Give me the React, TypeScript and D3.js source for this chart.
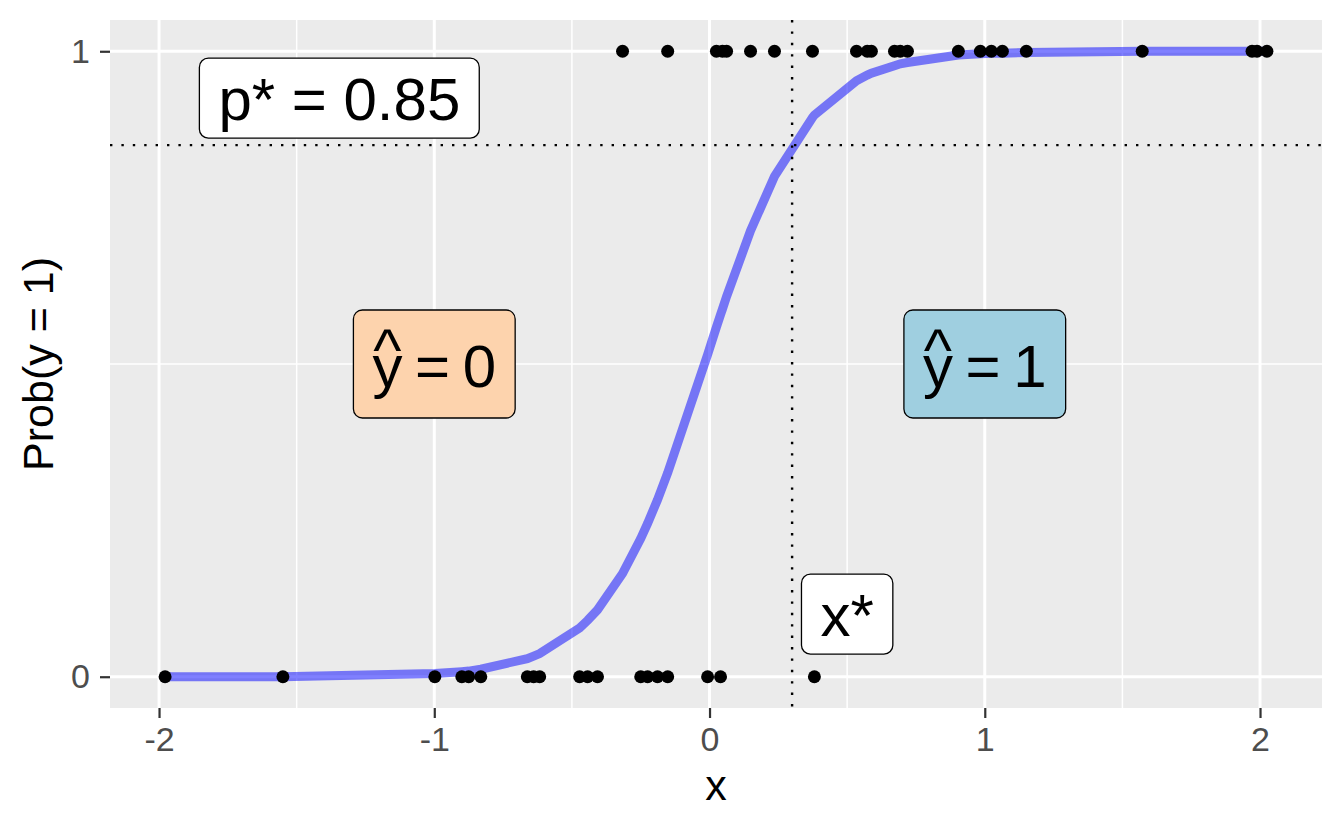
import { useRef, useEffect } from "react"
import * as d3 from "d3"

// observations with y = 0 and y = 1
const xZero = [-1.978, -1.55, -0.998, -0.9, -0.875, -0.831, -0.662, -0.639, -0.617, -0.472, -0.443, -0.407, -0.25, -0.225, -0.189, -0.152, -0.007, 0.04, 0.381]
const xOne = [-0.316, -0.152, 0.025, 0.047, 0.062, 0.149, 0.236, 0.374, 0.534, 0.573, 0.588, 0.672, 0.693, 0.719, 0.904, 0.984, 1.024, 1.064, 1.151, 1.572, 1.971, 1.989, 2.025]

const curveX = [-1.978, -1.55, -0.998, -0.9, -0.875, -0.831, -0.662, -0.639, -0.617, -0.472, -0.443, -0.407, -0.316, -0.25, -0.225, -0.189, -0.152, -0.007, 0.025, 0.04, 0.047, 0.062, 0.149, 0.236, 0.374, 0.381, 0.534, 0.573, 0.588, 0.672, 0.693, 0.719, 0.904, 0.984, 1.024, 1.064, 1.151, 1.572, 1.971, 1.989, 2.025]
const curveP = [0.0, 0.0, 0.005, 0.008, 0.009, 0.012, 0.029, 0.033, 0.037, 0.078, 0.09, 0.107, 0.165, 0.221, 0.245, 0.283, 0.326, 0.515, 0.559, 0.579, 0.588, 0.608, 0.713, 0.8, 0.894, 0.898, 0.953, 0.962, 0.965, 0.977, 0.98, 0.982, 0.994, 0.996, 0.997, 0.997, 0.998, 1.0, 1.0, 1.0, 1.0]

const xStar = 0.3
const pStar = 0.85

const xBreaks = [-2, -1, 0, 1, 2]
const yBreaks = [0, 1]
const yMinorBreaks = [0.5]

// annotation labels
const plainLabels = ["p* = 0.85", "x*"]
const plainLabelX = [-1.345, 0.5]
const plainLabelY = [0.925, 0.1]

const hatLabels = ["0", "1"]
const hatLabelX = [-1, 1]
const hatLabelY = [0.5, 0.5]
const hatFills = ["#FDD3AD", "#9FCFE0"]

export default function App() {
  const svgRef = useRef<SVGSVGElement>(null)

  function drawChart() {
    const width = 1344
    const height = 830
    const panel = { left: 110, right: 1322, top: 20, bottom: 708 }
    const fontFamily = "'Liberation Sans', Arial, Helvetica, sans-serif"

    const svg = d3.select(svgRef.current).attr("width", width).attr("height", height)
    svg.selectAll("*").remove()

    const allX = xZero.concat(xOne)
    const [xMin, xMax] = d3.extent(allX) as [number, number]
    const xPad = (xMax - xMin) * 0.05
    const x = d3.scaleLinear().domain([xMin - xPad, xMax + xPad]).range([panel.left, panel.right])
    const y = d3.scaleLinear().domain([-0.05, 1.05]).range([panel.bottom, panel.top])

    svg.append("rect").attr("width", width).attr("height", height).attr("fill", "white")

    // Panel
    svg
      .append("rect")
      .attr("x", panel.left)
      .attr("y", panel.top)
      .attr("width", panel.right - panel.left)
      .attr("height", panel.bottom - panel.top)
      .attr("fill", "#EBEBEB")

    const xMinorBreaks = xBreaks.slice(1).map((d, i) => (d + xBreaks[i]) / 2)
    const grid = svg.append("g").attr("stroke", "white")
    grid
      .selectAll("line.xminor")
      .data(xMinorBreaks)
      .enter()
      .append("line")
      .attr("x1", (d) => x(d))
      .attr("x2", (d) => x(d))
      .attr("y1", panel.top)
      .attr("y2", panel.bottom)
      .attr("stroke-width", 1.5)
    grid
      .selectAll("line.yminor")
      .data(yMinorBreaks)
      .enter()
      .append("line")
      .attr("x1", panel.left)
      .attr("x2", panel.right)
      .attr("y1", (d) => y(d))
      .attr("y2", (d) => y(d))
      .attr("stroke-width", 1.5)
    grid
      .selectAll("line.xmajor")
      .data(xBreaks)
      .enter()
      .append("line")
      .attr("x1", (d) => x(d))
      .attr("x2", (d) => x(d))
      .attr("y1", panel.top)
      .attr("y2", panel.bottom)
      .attr("stroke-width", 3)
    grid
      .selectAll("line.ymajor")
      .data(yBreaks)
      .enter()
      .append("line")
      .attr("x1", panel.left)
      .attr("x2", panel.right)
      .attr("y1", (d) => y(d))
      .attr("y2", (d) => y(d))
      .attr("stroke-width", 3)

    // Fitted curve
    const line = d3
      .line<number>()
      .x((d) => x(d))
      .y((d, i) => y(curveP[i]))
    svg
      .append("path")
      .datum(curveX)
      .attr("d", line)
      .attr("fill", "none")
      .attr("stroke", "blue")
      .attr("stroke-opacity", 0.5)
      .attr("stroke-width", 9)

    // Cutoff lines
    svg
      .append("line")
      .attr("x1", x(xStar))
      .attr("x2", x(xStar))
      .attr("y1", panel.top)
      .attr("y2", panel.bottom)
      .attr("stroke", "black")
      .attr("stroke-width", 2.4)
      .attr("stroke-dasharray", "2.4 9")
    svg
      .append("line")
      .attr("x1", panel.left)
      .attr("x2", panel.right)
      .attr("y1", y(pStar))
      .attr("y2", y(pStar))
      .attr("stroke", "black")
      .attr("stroke-width", 2.4)
      .attr("stroke-dasharray", "2.4 9")

    // Points
    const pts = svg.append("g").attr("fill", "black")
    pts
      .selectAll("circle.zero")
      .data(xZero)
      .enter()
      .append("circle")
      .attr("cx", (d) => x(d))
      .attr("cy", y(0))
      .attr("r", 6.5)
    pts
      .selectAll("circle.one")
      .data(xOne)
      .enter()
      .append("circle")
      .attr("cx", (d) => x(d))
      .attr("cy", y(1))
      .attr("r", 6.5)

    // Labels
    const labelFont = 60
    const padX = 19
    plainLabels.forEach((txt, i) => {
      const cx = x(plainLabelX[i])
      const cy = y(plainLabelY[i])
      const g = svg.append("g")
      const rect = g.append("rect")
      const t = g
        .append("text")
        .text(txt)
        .attr("x", cx)
        .attr("y", cy + 22)
        .attr("text-anchor", "middle")
        .style("font-size", `${labelFont}px`)
        .style("font-family", fontFamily)
        .attr("fill", "black")
      const w = (t.node() as SVGTextElement).getComputedTextLength() + padX * 2
      rect
        .attr("x", cx - w / 2)
        .attr("y", cy - 40)
        .attr("width", w)
        .attr("height", 80)
        .attr("rx", 9)
        .attr("fill", "white")
        .attr("stroke", "black")
        .attr("stroke-width", 1.3)
    })

    // y-hat labels: hat and expression in a single text element
    hatLabels.forEach((val, i) => {
      const cx = x(hatLabelX[i])
      const cy = y(hatLabelY[i])
      const g = svg.append("g")
      const rect = g.append("rect")
      const t = g
        .append("text")
        .attr("text-anchor", "start")
        .style("font-size", `${labelFont}px`)
        .style("font-family", fontFamily)
        .style("word-spacing", "-4px")
        .attr("fill", "black")
      const hat = t.append("tspan").text("^")
      const body = t.append("tspan").text(`y = ${val}`)
      const hatW = (hat.node() as SVGTSpanElement).getComputedTextLength()
      const bodyNode = body.node() as SVGTSpanElement
      const bodyW = bodyNode.getComputedTextLength()
      const yW = bodyNode.getSubStringLength(0, 1)
      const startX = cx - bodyW / 2
      hat.attr("x", startX + yW / 2 - hatW / 2).attr("y", cy + 7)
      body.attr("x", startX).attr("y", cy + 23)
      const w = bodyW + padX * 2
      rect
        .attr("x", cx - w / 2)
        .attr("y", cy - 54)
        .attr("width", w)
        .attr("height", 108)
        .attr("rx", 9)
        .attr("fill", hatFills[i])
        .attr("stroke", "black")
        .attr("stroke-width", 1.3)
    })

    // Axes
    const xAxis = svg
      .append("g")
      .attr("transform", `translate(0, ${panel.bottom})`)
      .call(
        d3
          .axisBottom(x)
          .tickValues(xBreaks)
          .tickSize(10)
          .tickPadding(9)
          .tickFormat((d) => String(d))
      )
    const yAxis = svg
      .append("g")
      .attr("transform", `translate(${panel.left}, 0)`)
      .call(
        d3
          .axisLeft(y)
          .tickValues(yBreaks)
          .tickSize(10)
          .tickPadding(10)
          .tickFormat((d) => String(d))
      )
    ;[xAxis, yAxis].forEach((a) => {
      a.select(".domain").remove()
      a.selectAll(".tick line").attr("stroke", "#333333").attr("stroke-width", 2.2)
      a.selectAll(".tick text")
        .attr("fill", "#4D4D4D")
        .style("font-size", "34px")
        .style("font-family", fontFamily)
    })

    // Axis titles
    svg
      .append("text")
      .text("x")
      .attr("x", (panel.left + panel.right) / 2)
      .attr("y", 800)
      .attr("text-anchor", "middle")
      .style("font-size", "43px")
      .style("font-family", fontFamily)
    svg
      .append("text")
      .text("Prob(y = 1)")
      .attr("transform", `translate(53, ${(panel.top + panel.bottom) / 2}) rotate(-90)`)
      .attr("text-anchor", "middle")
      .style("font-size", "43px")
      .style("font-family", fontFamily)
  }

  useEffect(() => {
    drawChart()
  }, [svgRef])

  return (
    <div>
      <svg ref={svgRef} style={{ position: "absolute", left: 0, top: 0 }}></svg>
    </div>
  )
}
